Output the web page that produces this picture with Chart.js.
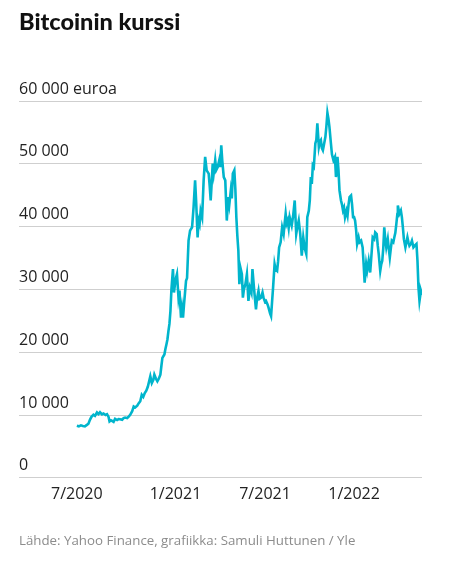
<!DOCTYPE html>
<html lang="fi">
<head>
<meta charset="utf-8">
<title>Bitcoinin kurssi</title>
<script src="https://cdn.jsdelivr.net/npm/chart.js@4.4.1/dist/chart.umd.min.js"></script>
<style>
  html, body { margin: 0; padding: 0; background: #fff; }
  body { width: 450px; height: 568px; position: relative; overflow: hidden; font-family: "Open Sans", sans-serif; }
  #kaavio { position: absolute; left: 0; top: 0; width: 450px; height: 568px; }
  #otsikko { position: absolute; left: 19px; top: 10px; margin: 0; font: 900 23.5px/1 Lato, sans-serif; color: #111; }
  #lahde { position: absolute; left: 19px; top: 534px; font-size: 13.3px; line-height: 1; color: #8c8c8c; }
</style>
</head>
<body>
<div id="kaavio"><canvas id="kurssi"></canvas></div>
<h1 id="otsikko">Bitcoinin kurssi</h1>
<div id="lahde">Lähde: Yahoo Finance, grafiikka: Samuli Huttunen / Yle</div>
<script>
// päivää 1.7.2020 jälkeen
const days = [
  0, 4, 8, 12, 16, 20, 23, 26, 29, 33, 36, 40, 43, 46, 50, 53, 57, 60, 63, 65,
  68, 70, 73, 76, 80, 83, 86, 90, 93, 96, 100, 103, 106, 110, 113, 116, 120, 123, 126, 129,
  132, 135, 138, 141, 144, 146, 149, 152, 154, 157, 160, 163, 166, 168, 170, 174, 176, 178, 180, 182,
  184, 186, 188, 191, 193, 195, 197, 199, 202, 204, 207, 209, 211, 213, 215, 217, 219, 222, 225, 229,
  232, 235, 237, 240, 242, 244, 246, 249, 252, 255, 258, 262, 264, 266, 268, 270, 272, 275, 277, 280,
  283, 285, 287, 289, 292, 295, 298, 301, 303, 306, 308, 310, 313, 315, 317, 319, 321, 323, 325, 328,
  330, 332, 335, 338, 341, 344, 347, 349, 352, 354, 356, 358, 361, 363, 366, 369, 371, 374, 376, 379,
  381, 384, 386, 388, 390, 393, 395, 398, 400, 402, 405, 408, 411, 413, 415, 417, 419, 421, 423, 425,
  427, 430, 433, 436, 438, 441, 444, 447, 450, 453, 456, 458, 461, 463, 465, 467, 469, 471, 474, 476,
  478, 481, 483, 485, 487, 489, 491, 494, 496, 498, 500, 502, 505, 507, 510, 513, 515, 518, 520, 522,
  525, 527, 529, 531, 533, 536, 538, 540, 542, 545, 547, 549, 551, 553, 555, 557, 560, 562, 565, 568,
  570, 572, 575, 577, 580, 583, 586, 588, 591, 593, 596, 598, 600, 603, 605, 607, 609, 611, 613, 615,
  618, 620, 622, 624, 626, 629, 631, 633, 635, 637, 638, 641, 644, 646, 648, 650, 653, 655, 657, 659,
  661, 664, 666, 669, 672, 675, 677, 679, 681, 683, 684, 686
];

// euroa
const prices = [
  8300, 8200, 8350, 8250, 8200, 8430, 8600, 9230, 9700, 10030, 9850, 10400, 10150, 10430, 10100, 10240, 10000, 10130, 9700, 8960,
  9150, 9070, 8900, 9390, 9200, 9350, 9330, 9250, 9500, 9600, 9500, 9750, 10030, 10600, 11360, 11200, 11500, 11890, 12200, 13230,
  12900, 13500, 13870, 14500, 15500, 16160, 15090, 15600, 16430, 15800, 15360, 15800, 16430, 17800, 19090, 19630, 20500, 21230, 22030, 23360,
  24500, 26560, 30000, 33230, 29500, 30830, 31800, 32430, 28690, 29800, 25490, 27000, 25490, 27630, 29500, 31360, 31800, 37760, 39360, 39890,
  43090, 47360, 44160, 38290, 41000, 40430, 42500, 41490, 47360, 51090, 48960, 48430, 46500, 44160, 47000, 50030, 48500, 50560, 49000, 49490,
  50560, 49500, 52960, 50500, 47890, 47360, 40960, 44690, 43500, 45760, 44500, 48430, 48960, 46000, 41490, 38500, 36160, 30830, 33500, 32430,
  28690, 30000, 30830, 32430, 28160, 30290, 29500, 33230, 30290, 28500, 26830, 28500, 29760, 28500, 28690, 29500, 28690, 28000, 28160, 27600,
  27090, 26200, 25760, 28000, 30290, 34030, 33200, 32960, 34500, 36690, 37500, 39890, 38830, 40500, 42030, 40500, 40960, 39800, 41490, 40800,
  40160, 41800, 44160, 38830, 39800, 40960, 38830, 35360, 38290, 36500, 35630, 41490, 42500, 44160, 47890, 46800, 49760, 49500, 53230, 53800,
  56430, 52690, 53500, 53760, 52500, 52160, 53000, 54290, 56000, 58130, 57200, 55890, 53230, 51500, 50560, 51090, 47890, 51090, 49000, 45760,
  44160, 43500, 42560, 43000, 41490, 42500, 41760, 43500, 44690, 44960, 43500, 41490, 41500, 40960, 39500, 37230, 38290, 37500, 37760, 36690,
  34000, 31090, 34030, 33000, 34560, 32690, 36000, 38290, 38000, 39090, 38830, 37000, 35630, 32960, 34000, 34560, 36500, 39890, 38000, 36690,
  38030, 36500, 35090, 36500, 37760, 37500, 38290, 39000, 40430, 42000, 43360, 42030, 42560, 41500, 39890, 38000, 36690, 37500, 38290, 37500,
  36960, 37300, 37760, 36690, 37000, 37230, 34560, 30290, 28160, 29300, 29760, 29230
];

// x-akselin nimiöt
const tickDays = [0, 196, 374, 551];
const tickLabels = ["7/2020", "1/2021", "7/2021", "1/2022"];

const yTicks = [0, 10000, 20000, 30000, 40000, 50000, 60000];

function tuhannet(v) {
  return String(v).replace(/\B(?=(\d{3})+(?!\d))/g, " ");
}

const ctx = document.getElementById("kurssi").getContext("2d");
new Chart(ctx, {
  type: "line",
  data: {
    datasets: [{
      data: days.map((d, i) => ({ x: d, y: prices[i] })),
      borderColor: "#00b5cc",
      borderWidth: 2.6,
      pointRadius: 0,
      tension: 0,
      fill: false
    }]
  },
  options: {
    responsive: true,
    maintainAspectRatio: false,
    animation: false,
    layout: { padding: { top: 101, left: 19, right: 28, bottom: 57 } },
    plugins: { legend: { display: false }, tooltip: { enabled: false } },
    scales: {
      x: {
        type: "linear",
        min: -115,
        max: 686,
        afterBuildTicks: scale => { scale.ticks = tickDays.map(v => ({ value: v })); },
        ticks: {
          autoSkip: false,
          maxRotation: 0,
          padding: 7,
          color: "#222",
          font: { family: "Open Sans", size: 16 },
          callback: v => tickLabels[tickDays.indexOf(v)]
        },
        grid: { display: false, drawTicks: false },
        border: { display: false }
      },
      y: {
        min: 0,
        max: 60000,
        afterBuildTicks: scale => { scale.ticks = yTicks.map(v => ({ value: v })); },
        ticks: {
          mirror: true,
          padding: 0,
          labelOffset: -12,
          color: "#222",
          font: { family: "Open Sans", size: 16 },
          callback: v => v === 60000 ? tuhannet(v) + " euroa" : tuhannet(v)
        },
        grid: { color: "#cfcfcf", lineWidth: 1, drawTicks: false },
        border: { display: false }
      }
    }
  }
});
</script>
</body>
</html>
